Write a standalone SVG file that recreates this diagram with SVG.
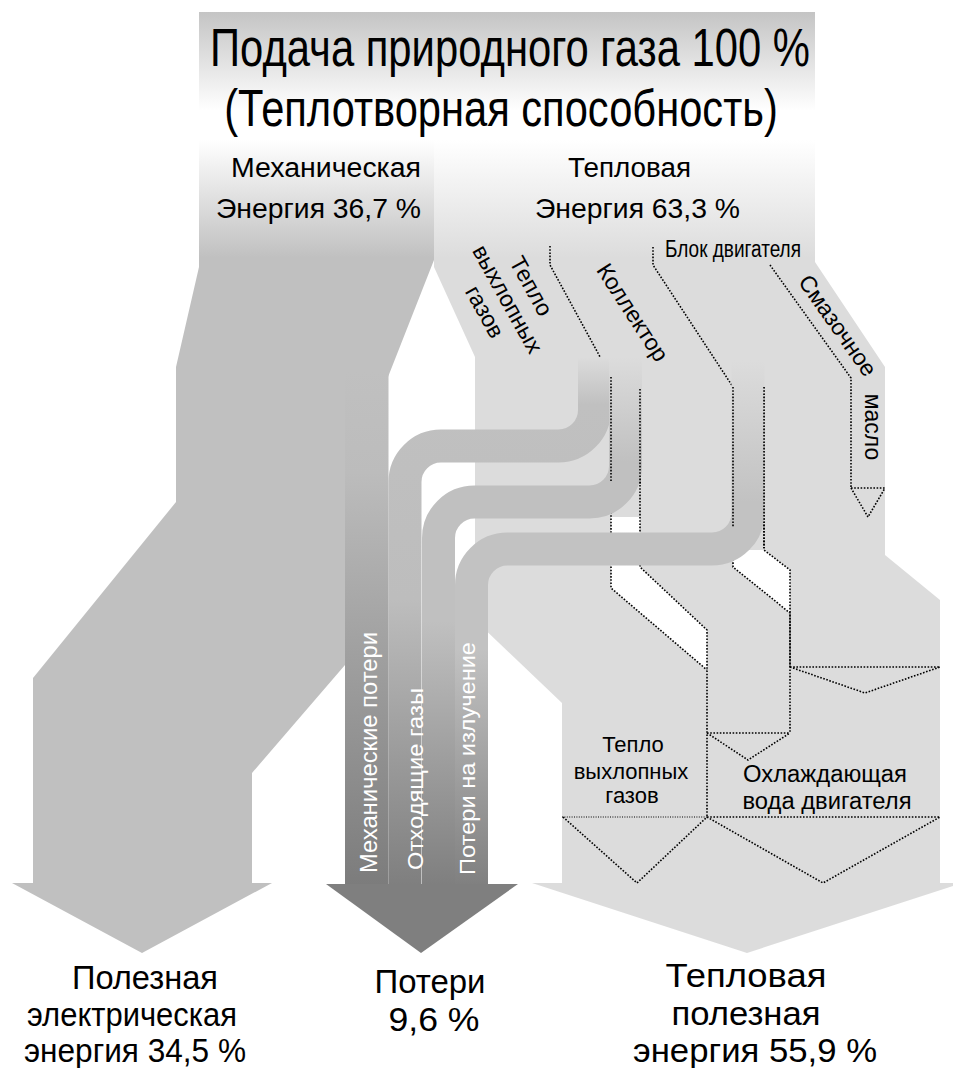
<svg xmlns="http://www.w3.org/2000/svg" width="953" height="1068" viewBox="0 0 953 1068">
<defs>
<style>
text { font-family: "Liberation Sans", Arial, sans-serif; fill: #000; }
.c { text-anchor: middle; }
.w { fill: #fff; }
.dot { fill: none; stroke: #000; stroke-width: 1.6; stroke-dasharray: 1.6 1.6; }
.dotf { fill: none; stroke: #000; stroke-width: 1; stroke-dasharray: 1 1.4; }
.tube { fill: none; stroke-width: 33; }
</style>
<linearGradient id="gMech" gradientUnits="userSpaceOnUse" x1="0" y1="12" x2="0" y2="258">
<stop offset="0" stop-color="#c4c4c4"/>
<stop offset="0.40" stop-color="#ffffff"/>
<stop offset="0.52" stop-color="#ffffff"/>
<stop offset="1" stop-color="#c0c0c0"/>
</linearGradient>
<linearGradient id="gTherm" gradientUnits="userSpaceOnUse" x1="0" y1="12" x2="0" y2="258">
<stop offset="0" stop-color="#c4c4c4"/>
<stop offset="0.40" stop-color="#ffffff"/>
<stop offset="0.52" stop-color="#ffffff"/>
<stop offset="1" stop-color="#dcdcdc"/>
</linearGradient>
<linearGradient id="gT1" gradientUnits="userSpaceOnUse" x1="0" y1="357" x2="0" y2="885">
<stop offset="0" stop-color="#dcdcdc"/>
<stop offset="0.09" stop-color="#c0c0c0"/>
<stop offset="0.46" stop-color="#bdbdbd"/>
<stop offset="1" stop-color="#7f7f7f"/>
</linearGradient>
<linearGradient id="gT2" gradientUnits="userSpaceOnUse" x1="0" y1="357" x2="0" y2="885">
<stop offset="0" stop-color="#dcdcdc"/>
<stop offset="0.2" stop-color="#c0c0c0"/>
<stop offset="0.5" stop-color="#c0c0c0"/>
<stop offset="1" stop-color="#7f7f7f"/>
</linearGradient>
<linearGradient id="gT3" gradientUnits="userSpaceOnUse" x1="0" y1="360" x2="0" y2="885">
<stop offset="0" stop-color="#dcdcdc"/>
<stop offset="0.27" stop-color="#c2c2c2"/>
<stop offset="0.55" stop-color="#c2c2c2"/>
<stop offset="1" stop-color="#808080"/>
</linearGradient>
<linearGradient id="gLoss" gradientUnits="userSpaceOnUse" x1="0" y1="370" x2="0" y2="885">
<stop offset="0" stop-color="#c0c0c0"/>
<stop offset="0.2" stop-color="#bcbcbc"/>
<stop offset="1" stop-color="#7c7c7c"/>
</linearGradient>
</defs>

<g id="thermal-flow">
<polygon fill="url(#gTherm)" points="434,12 815,12 815,262 885,367 885,555 940,600 940,883 962,883 747,953 532,883 562,883 562,703 475,620 475,357 434,267"/>
<polygon fill="#fff" points="611,517 640,517 640,567 707,630 707,670 611,588"/>
<polygon fill="#fff" points="733,550 764,550 790,570 790,613 733,567"/>
</g>

<g id="mechanical-flow">
<polygon fill="url(#gMech)" points="199,12 434,12 434,260 388,377 388,500 345,500 345,665 252,773 252,883 272,883 142,953 12,883 33,883 33,678 176,502 176,367 199,267"/>
</g>

<g id="gas-supply">
<rect x="199" y="12" width="616" height="128" fill="url(#gTherm)"/>
</g>

<g id="dividers">
<path class="dot" d="M550,246 V265 L611,377 V588 L707,670"/>
<path class="dot" d="M640,389 V567 L707,630 V817"/>
<path class="dot" d="M653,247 V265 L733,387 V567 L790,613 V733"/>
<path class="dot" d="M764,387 V550 L790,570 V667"/>
<path class="dot" d="M770,265 L851,378 V488"/>
<path class="dot" d="M851,488 H885 M851,488 L868,517 L885,488"/>
<path class="dot" d="M790,667 H940 M790,667 L865,693 L940,667"/>
<path class="dot" d="M707,733 H790 M707,733 L748,760 L790,733"/>
<path class="dot" d="M707,817 H940 M707,817 L823,883 L940,817"/>
<path class="dotf" d="M562,817 H707"/>
<path class="dot" d="M563,817 L637,883 L707,817"/>
</g>

<g id="connectors">
<path class="tube" stroke="url(#gT1)" d="M594.5,357 V410 A36,36 0 0 1 558.5,446 H441 A36,36 0 0 0 405,482 V885"/>
<path class="tube" stroke="url(#gT2)" d="M625.5,357 V466 A36,36 0 0 1 589.5,502 H474.5 A36,36 0 0 0 438.5,538 V885"/>
<path class="tube" stroke="url(#gT3)" d="M748,360 V513 A36,36 0 0 1 712,549 H507.5 A36,36 0 0 0 471.5,585 V885"/>
<path class="dot" d="M611,377 V482 M640,389 V484 M733,387 V527 M764,387 V548"/>
</g>

<g id="losses">
<rect x="345" y="372" width="43.5" height="513" fill="url(#gLoss)"/>
<polygon fill="#7f7f7f" points="326,884 518,884 421,953"/>
<text class="w" transform="translate(377,873) rotate(-90)" font-size="23" textLength="241" lengthAdjust="spacingAndGlyphs">Механические потери</text>
<text class="w" transform="translate(423,870) rotate(-90)" font-size="22" textLength="182" lengthAdjust="spacingAndGlyphs">Отходящие  газы</text>
<text class="w" transform="translate(475,875) rotate(-90)" font-size="22" textLength="233" lengthAdjust="spacingAndGlyphs">Потери на излучение</text>
</g>

<g id="header">
<text class="c" transform="translate(510,66) scale(0.7,1)" font-size="54" textLength="857" lengthAdjust="spacingAndGlyphs">Подача природного газа 100 %</text>
<text class="c" transform="translate(501,126) scale(0.72,1)" font-size="52" textLength="769" lengthAdjust="spacingAndGlyphs">(Теплотворная способность)</text>
<text class="c" x="326" y="177" font-size="27" textLength="190" lengthAdjust="spacingAndGlyphs">Механическая</text>
<text class="c" x="318.5" y="218" font-size="28" textLength="205" lengthAdjust="spacingAndGlyphs">Энергия 36,7 %</text>
<text class="c" x="629.5" y="177" font-size="27" textLength="123" lengthAdjust="spacingAndGlyphs">Тепловая</text>
<text class="c" x="637.5" y="218" font-size="28" textLength="205" lengthAdjust="spacingAndGlyphs">Энергия 63,3 %</text>
</g>

<g id="thermal-labels">
<g transform="translate(506,300) rotate(61)">
<text class="c" x="0" y="-21" font-size="23">Тепло</text>
<text class="c" x="0" y="6" font-size="23">выхлопных</text>
<text class="c" x="0" y="32" font-size="23">газов</text>
</g>
<text class="c" transform="translate(632,313) rotate(57)" y="7" font-size="23">Коллектор</text>
<text x="665" y="257" font-size="23" textLength="136" lengthAdjust="spacingAndGlyphs">Блок двигателя</text>
<text class="c" transform="translate(837,326) rotate(55)" y="7" font-size="23">Смазочное</text>
<text class="c" transform="translate(870.5,427) rotate(90)" y="6" font-size="23">масло</text>
<text class="c" x="633" y="752" font-size="22">Тепло</text>
<text class="c" x="631" y="779" font-size="22">выхлопных</text>
<text class="c" x="632" y="803" font-size="22">газов</text>
<text class="c" x="825" y="782" font-size="23" textLength="164" lengthAdjust="spacingAndGlyphs">Охлаждающая</text>
<text class="c" x="827" y="809" font-size="23" textLength="169" lengthAdjust="spacingAndGlyphs">вода двигателя</text>
</g>

<g id="outputs">
<text class="c" x="145" y="989" font-size="34" textLength="146" lengthAdjust="spacingAndGlyphs">Полезная</text>
<text class="c" x="132" y="1026" font-size="34" textLength="210" lengthAdjust="spacingAndGlyphs">электрическая</text>
<text class="c" x="135" y="1062" font-size="34" textLength="222" lengthAdjust="spacingAndGlyphs">энергия 34,5 %</text>
<text class="c" x="430" y="993" font-size="34" textLength="111" lengthAdjust="spacingAndGlyphs">Потери</text>
<text class="c" x="434" y="1031" font-size="34" textLength="91" lengthAdjust="spacingAndGlyphs">9,6 %</text>
<text class="c" x="746" y="987" font-size="34" textLength="161" lengthAdjust="spacingAndGlyphs">Тепловая</text>
<text class="c" x="746" y="1025" font-size="34" textLength="149" lengthAdjust="spacingAndGlyphs">полезная</text>
<text class="c" x="755" y="1062" font-size="34" textLength="244" lengthAdjust="spacingAndGlyphs">энергия 55,9 %</text>
</g>
</svg>
